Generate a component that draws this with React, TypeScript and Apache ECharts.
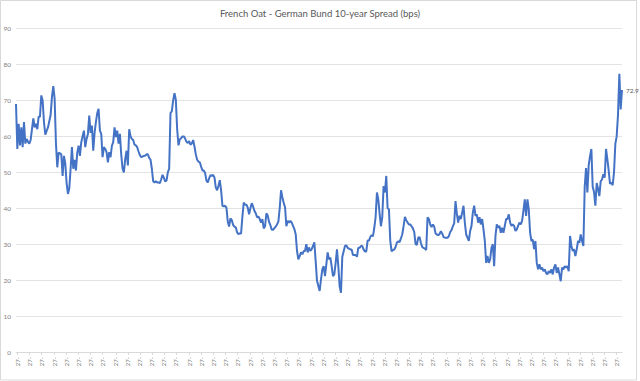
import React, { useEffect, useRef } from "react";
import * as echarts from "echarts";

const title = "French Oat - German Bund 10-year Spread (bps)";
const tickText = "27-";
const tickCount = 50;
const lastLabel = "72.9";

const spreadPart1: number[] = [
  69, 56.5, 63.5, 57.5, 62.5, 57, 64, 58, 59.3, 58.5, 58, 59, 62, 65, 62.5, 63.5, 62, 65.5, 65.5, 71.4,
  70, 64, 60.5, 61.5, 62.5, 64.2, 66, 71, 74, 70.5, 58, 51.4, 55.5, 55.3, 55, 49, 54.6, 52.5, 47, 44,
  45.5, 51, 57, 51, 53.5, 50.5, 55.5, 57.4, 54.6, 58.4, 60, 61.6, 57, 59.3, 60.7, 65.8, 61, 63, 56, 61,
  64, 66.5, 67.7, 61.6, 60.7, 54.2, 57, 56.5, 55.6, 52.8, 55.6, 54.2, 57.4, 58.4, 62.5, 59.8, 61.6, 58, 60.7, 55,
  51, 50, 53.7, 56, 51.9, 62, 60, 59.3, 59, 57.7, 57.5, 57, 55.8, 54.8, 54.2, 54.4, 54.6, 54.6, 55, 55,
  54, 53.5, 51, 47.5, 47.2, 47.5, 47.2, 47.2, 47, 48, 49.3, 48.5, 47.5, 47.7, 50, 51, 66.5, 67, 70, 72,
  70.2, 62, 57.5, 59.2, 59.5, 60, 60, 59.4, 58.5, 58.2, 58.7, 57.7, 58, 59, 57.2, 55, 53.5, 53, 52.8, 51.6,
  50.5, 50.5, 49.8, 47.7, 47.2, 48.3, 49.2, 49, 49.3, 48.6, 45.8, 45, 46.2, 47.8, 45, 40.7, 40.5, 40.7, 40.2, 36.3,
  34.9, 37.2, 36.7, 35.4, 34.9, 34.7, 33.3, 32.8, 33, 33, 37.7, 41.6, 41, 41, 40.2, 38.3, 40, 41.4, 40.5, 39.3,
  38.6, 37.5, 37.7, 37, 36, 37, 34.4, 35, 38.6, 38, 36.2, 35.3, 34, 34, 34.5, 34.9, 35.5, 36.3, 40, 45,
  43, 41.5, 40.3, 35, 36.5, 36, 36.5, 36, 35.1, 34.2, 32.8, 28.1, 25.8, 26.7, 27.7, 27.2, 28.1, 28.1, 30, 27.7,
  29.1, 28.1, 28.6, 29.5, 30.5, 25.3, 19.8, 18.4, 17, 20.2, 23, 23.9, 21.1, 24.4, 27.7, 25.8, 26.3,
];

const spreadPart2: number[] = [
  23.9, 21.1, 21.6, 24.8, 28.6, 23.9, 18.3, 16.5, 26.5, 28, 29.5, 29.7, 29, 28.8, 28.5, 28.5, 27, 27, 27, 26.5,
  29, 29, 29.5, 29.5, 28.5, 28, 28, 31, 31, 32, 32.5, 32.2, 34.5, 37.5, 44.4, 42.5, 38.5, 35, 37.5, 46.2,
  44.4, 49, 40, 39.7, 31, 28, 28.4, 28.5, 29.2, 30.5, 30.8, 30.6, 31.6, 32.7, 35, 37.6, 36.7, 36, 35.5, 35.5,
  35, 34.4, 33.4, 30, 29.8, 31.8, 32, 30.4, 29.2, 29, 28.8, 28.4, 37.5, 37, 35.5, 34.8, 35.5, 34.9, 33, 32.7,
  32.5, 32.8, 33.6, 33, 32, 31.8, 31.8, 31.8, 32.2, 33.4, 33.9, 35, 35.8, 42, 38.5, 36, 37.9, 37, 38.8, 40.7,
  36, 32.7, 31.8, 30.9, 33.7, 35.1, 38.8, 40.7, 37.9, 38.3, 36, 37.5, 35.5, 37, 34.1, 30.9, 24.8, 26.7, 24.8, 25.8,
  29, 30, 23.9, 32.3, 35.5, 34.6, 35.1, 33.2, 34.6, 33.2, 35.1, 37, 37, 38.3, 36, 35.1, 35.5, 35.1, 33.7, 34.1,
  35.1, 36, 35.5, 36.5, 39.3, 42.5, 37.9, 42.5, 39.7, 33.2, 30.9, 31.3, 28.6, 30.9, 24.8, 23, 24.4, 23, 23.5, 22.5,
  23, 22, 21.6, 22.5, 22, 23, 21.6, 23.5, 24.4, 22, 23.5, 21.6, 19.7, 23.5, 23, 23.9, 23.5, 23.9, 22.5, 32.3,
  29.5, 28.1, 28.6, 26.7, 28.6, 30.9, 30.4, 32.7, 30.9, 29.5, 46, 51.2, 44.4, 52, 54.5, 56.5, 46, 44.5, 40.7, 47,
  45.5, 43.4, 47.5, 48, 49.5, 48.5, 56.5, 53.7, 50.5, 46.8, 47.2, 46.4, 50, 57.9, 60, 66, 77.4, 67.5, 72.9,
];

const spread: number[] = [...spreadPart1, ...spreadPart2];
const categories: string[] = spread.map((_, i) => String(i));

export default function App() {
  const ref = useRef<HTMLDivElement>(null);
  useEffect(() => {
    document.body.style.margin = "0";
    if (!ref.current) return;
    const chart = echarts.init(ref.current, null, { renderer: "svg" });
    const n = spread.length;
    const step = 606.6 / (n - 1);
    const tickIdx = new Set<number>();
    for (let k = 0; k < tickCount; k++) {
      tickIdx.add(Math.round((1.3 + k * 12.253) / step));
    }
    const font = "Lato, 'Open Sans', sans-serif";
    chart.setOption({
      animation: false,
      backgroundColor: "#ffffff",
      title: {
        text: title,
        left: "center",
        top: 3,
        textStyle: { fontSize: 9.5, fontWeight: "normal", color: "#595959", fontFamily: font },
      },
      grid: { left: 16, right: 18, top: 28.6, bottom: 29, containLabel: false },
      xAxis: {
        type: "category",
        data: categories,
        boundaryGap: false,
        axisLine: { lineStyle: { color: "#d9d9d9", width: 1 } },
        axisTick: {
          show: true,
          interval: (i: number) => tickIdx.has(i),
          length: 3,
          lineStyle: { color: "#d9d9d9" },
        },
        axisLabel: {
          interval: (i: number) => tickIdx.has(i),
          rotate: 90,
          fontSize: 6,
          color: "#7f7f7f",
          margin: 5,
          fontFamily: font,
          formatter: () => tickText,
        },
        splitLine: { show: false },
      },
      yAxis: {
        type: "value",
        min: 0,
        max: 90,
        interval: 10,
        axisLine: { show: false },
        axisTick: { show: false },
        axisLabel: { fontSize: 6.5, color: "#7f7f7f", margin: 5, fontFamily: font },
        splitLine: { lineStyle: { color: "#e3e3e3", width: 1 } },
      },
      series: [
        {
          type: "line",
          data: spread,
          showSymbol: false,
          symbol: "none",
          lineStyle: { color: "#4472c4", width: 2 },
          endLabel: {
            show: true,
            formatter: () => lastLabel,
            fontSize: 6.5,
            color: "#595959",
            distance: 4,
            fontFamily: font,
          },
        },
      ],
      graphic: [
        {
          type: "rect",
          shape: { x: 0.5, y: 0.5, width: 636, height: 379.5 },
          style: { fill: "none", stroke: "#d9d9d9", lineWidth: 1 },
          silent: true,
        },
      ],
    });
    return () => chart.dispose();
  }, []);
  return <div ref={ref} style={{ width: 640, height: 381 }} />;
}
